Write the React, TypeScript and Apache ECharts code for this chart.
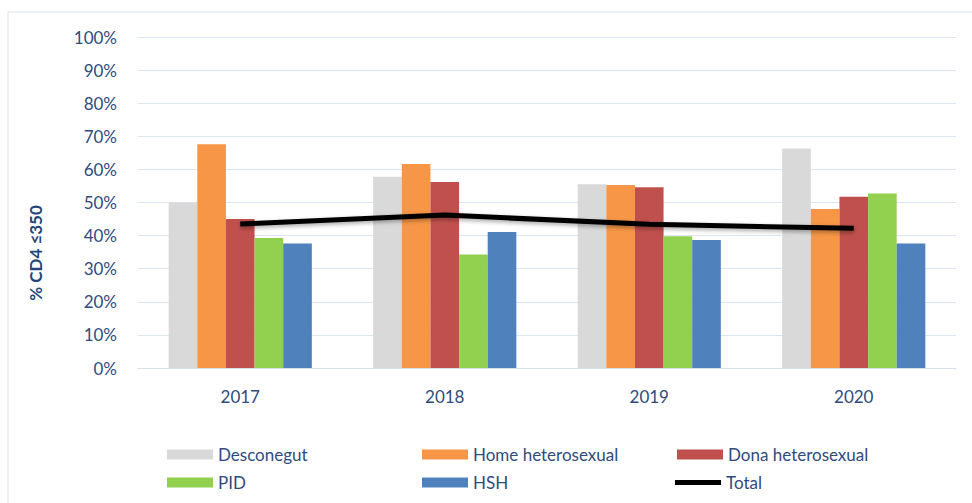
import React, { useEffect, useRef } from "react";
import * as echarts from "echarts";

const years = ["2017", "2018", "2019", "2020"];
const desconegut = [50.0, 57.8, 55.5, 66.3];
const homeHetero = [67.6, 61.6, 55.3, 48.0];
const donaHetero = [45.0, 56.2, 54.6, 51.7];
const pid = [39.3, 34.3, 39.8, 52.7];
const hsh = [37.6, 41.1, 38.7, 37.6];
const total = [43.5, 46.2, 43.4, 42.2];

const seriesNames = ["Desconegut", "Home heterosexual", "Dona heterosexual", "PID", "HSH", "Total"];
const colors = ["#d9d9d9", "#f79646", "#c0504d", "#92d050", "#4f81bd", "#000000"];

const FONT = "Lato";
const TXT = "#2f4b7c";

export default function App() {
  const ref = useRef<HTMLDivElement>(null);
  useEffect(() => {
    document.body.style.margin = "0";
    const chart = echarts.init(ref.current!, undefined, { renderer: "svg" });
    const barData = [desconegut, homeHetero, donaHetero, pid, hsh];
    const legendPos = [
      { left: 167, top: 446 },
      { left: 422, top: 446 },
      { left: 677, top: 446 },
      { left: 167, top: 474 },
      { left: 422, top: 474 },
      { left: 675, top: 474 },
    ];
    const legends = seriesNames.map((n, i) => ({
      data: [n],
      left: legendPos[i].left,
      top: legendPos[i].top,
      orient: "horizontal",
      itemWidth: 46,
      itemHeight: i === 5 ? 5 : 10,
      itemGap: 0,
      icon: "rect",
      textStyle: { color: TXT, fontSize: 17, fontFamily: FONT },
      padding: 0,
    }));
    chart.setOption({
      animation: false,
      backgroundColor: "#ffffff",
      textStyle: { fontFamily: FONT },
      grid: { left: 138, right: 16, top: 37, bottom: 135, containLabel: false },
      legend: legends,
      xAxis: {
        type: "category",
        data: years,
        axisLine: { lineStyle: { color: "#d6e0ec", width: 1 } },
        axisTick: { show: false },
        axisLabel: { color: TXT, fontSize: 17, fontFamily: FONT, margin: 20 },
      },
      yAxis: {
        type: "value",
        min: 0,
        max: 100,
        interval: 10,
        axisLine: { show: false },
        axisTick: { show: false },
        splitLine: { lineStyle: { color: "#dce6f2", width: 1 } },
        axisLabel: { color: TXT, fontSize: 17, fontFamily: FONT, margin: 21, formatter: "{value}%" },
      },
      graphic: [
        {
          type: "rect",
          shape: { x: 8, y: 12, width: 1000, height: 520 },
          style: { fill: "none", stroke: "#dbe5f1", lineWidth: 1 },
          silent: true,
        },
        {
          type: "text",
          x: 35,
          y: 253,
          rotation: Math.PI / 2,
          style: {
            text: "% CD4 ≤350",
            fill: "#24457a",
            font: `bold 17px ${FONT}`,
            align: "center",
            verticalAlign: "middle",
          },
        },
      ],
      series: [
        ...barData.map((d, i) => ({
          name: seriesNames[i],
          type: "bar",
          data: d,
          barGap: "0%",
          barCategoryGap: "30%",
          itemStyle: { color: colors[i] },
        })),
        {
          name: "Total",
          type: "line",
          data: total,
          symbol: "none",
          lineStyle: {
            color: "#000",
            width: 5,
            shadowColor: "rgba(0,0,0,0.35)",
            shadowBlur: 4,
            shadowOffsetY: 2,
          },
          itemStyle: { color: "#000" },
          z: 5,
        },
      ],
    });
    return () => chart.dispose();
  }, []);
  return <div ref={ref} style={{ width: 972, height: 503 }} />;
}
